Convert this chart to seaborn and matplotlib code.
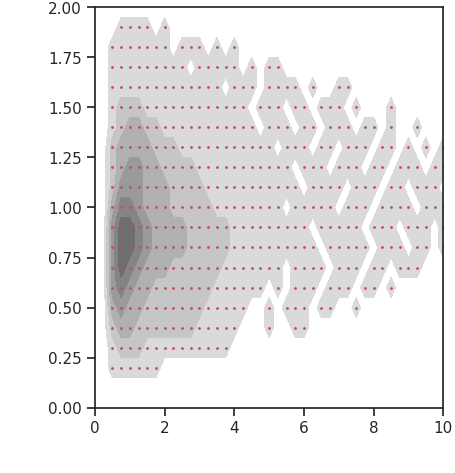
import numpy as np
import matplotlib
matplotlib.use("Agg")
import matplotlib.pyplot as plt
import seaborn as sns

dens_rows = [
    "0000000000 0000000000 0000000000 0000000000 0",
    "0001111010 0000000000 0000000000 0000000000 0",
    "0011111110 1110101000 0000000000 0000000000 0",
    "0011111111 1011111010 1100000000 0000000000 0",
    "0011111111 1111101110 1111010011 0000000000 0",
    "0012221111 1111111101 1101101110 1000100000 0",
    "0012332211 1111111110 1110110111 0110100100 0",
    "0023333222 1111111111 1011101101 1101101010 1",
    "0023443322 2211111111 1110111011 1011011101 1",
    "0024443332 2221111111 1111011110 1110110111 0",
    "0035543332 2222111111 1101111101 1101111011 1",
    "0046654333 3222221111 1111101111 1011101110 1",
    "0046654333 3222221111 1111110111 1101110110 1",
    "0046543332 2222211111 1101111011 1011011100 0",
    "0045433222 2222111111 0101110111 0110100000 0",
    "0034332222 2221111100 1011101100 1000000000 0",
    "0023322222 2211111000 1001100000 0000000000 0",
    "0012221111 1111110000 0000000000 0000000000 0",
    "0011111100 0000000000 0000000000 0000000000 0",
    "0000000000 0000000000 0000000000 0000000000 0",
    "0000000000 0000000000 0000000000 0000000000 0",
]
dens_grays = ["#dadada", "#c6c6c6", "#b0b0b0", "#9a9a9a", "#848484", "#6e6e6e"]
sns.set_theme(style="ticks")
fig = plt.figure(figsize=(4.56, 4.73), dpi=100)
ax = fig.add_axes([95 / 456, 1 - 407.5 / 473, 348.3 / 456, 400 / 473])
dens = np.array([[int(c) for c in r.replace(" ", "")] for r in dens_rows])[::-1]
gx = np.arange(dens.shape[1]) * 0.25
gy = np.arange(dens.shape[0]) * 0.1
ax.contourf(gx, gy, dens, levels=np.arange(0.5, 7.0, 1.0), colors=dens_grays, zorder=0)
yy, xx = np.nonzero(dens)
ax.plot(gx[xx], gy[yy], "r.", ms=2)
ax.set_xlim(0, 10)
ax.set_ylim(0, 2)
fig.savefig("out.png", dpi=100)
